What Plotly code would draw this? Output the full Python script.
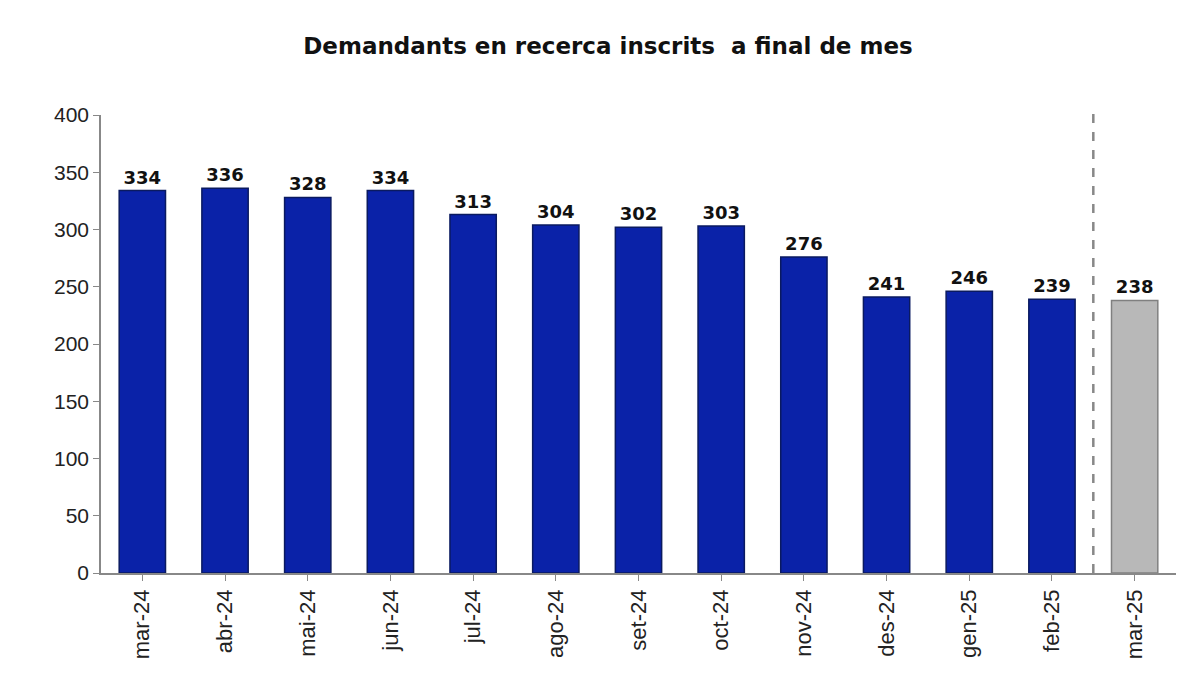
import plotly.graph_objects as go

months = ["mar-24","abr-24","mai-24","jun-24","jul-24","ago-24","set-24","oct-24","nov-24","des-24","gen-25","feb-25","mar-25"]
values = [334,336,328,334,313,304,302,303,276,241,246,239,238]
colors = ["#0a22a8"]*12 + ["#b8b8b8"]
outline = ["#0a1a60"]*12 + ["#808080"]

fig = go.Figure(go.Bar(
    x=months, y=values, width=0.56,
    marker=dict(color=colors, line=dict(color=outline, width=1.5)),
    text=["<b>%d</b>" % v for v in values], textposition="outside",
    textfont=dict(family="DejaVu Sans", size=18, color="#111"),
    cliponaxis=False,
))
fig.add_shape(type="line", xref="x", yref="paper", x0=11.5, x1=11.5, y0=0, y1=1.02,
              line=dict(color="#888", width=2.5, dash="dash"))
fig.update_layout(
    width=1200, height=675, plot_bgcolor="white", paper_bgcolor="white",
    margin=dict(l=93, r=32, t=107, b=110),
    showlegend=False, bargap=0.44,
    title=dict(text="<b>Demandants en recerca inscrits  a final de mes</b>", x=0.5, y=0.955,
               xanchor="center", font=dict(family="DejaVu Sans", size=23, color="#111")),
    font=dict(family="Liberation Sans", size=20, color="#222"),
)
fig.update_xaxes(tickangle=-90, automargin=False, showline=True, linecolor="#888", linewidth=1.5,
                 ticks="outside", ticklen=6, tickcolor="#888", range=[-0.5, 12.5],
                 tickfont=dict(size=22, family="Liberation Sans"))
fig.update_yaxes(range=[0, 400], dtick=50, showgrid=False, showline=True, linecolor="#888",
                 linewidth=1.5, ticks="outside", ticklen=6, tickcolor="#888", automargin=False,
                 tickfont=dict(size=21, family="Liberation Sans"))
fig.write_html("out.html")
